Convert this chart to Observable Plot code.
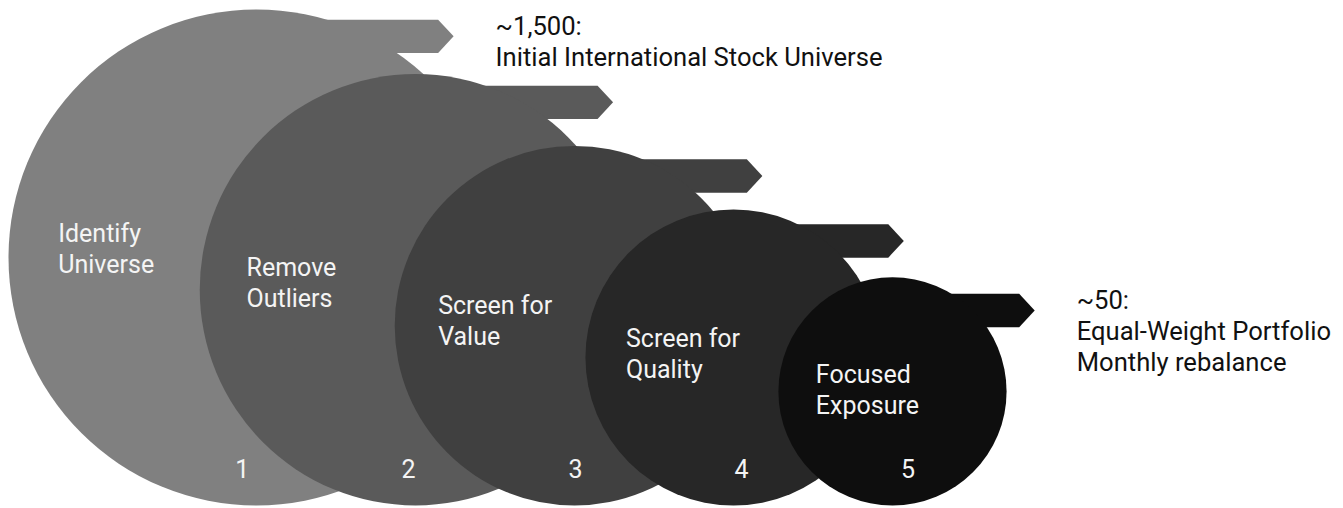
<!DOCTYPE html>
<html>
<head>
<meta charset="utf-8">
<script src="https://cdn.jsdelivr.net/npm/d3@7"></script>
<script src="https://cdn.jsdelivr.net/npm/@observablehq/plot@0.6"></script>
<style>
  html, body { margin: 0; padding: 0; background: #fff; }
  #chart svg { display: block; }
</style>
</head>
<body>
<div id="chart"></div>
<script>
// ---- data ----
const stages = [1, 2, 3, 4, 5];
const stepNames = ["Identify\nUniverse", "Remove\nOutliers", "Screen for\nValue", "Screen for\nQuality", "Focused\nExposure"];
const stageSizes = [100, 87, 72.5, 59.7, 46];            // relative size of each funnel stage
const noteStages = [1, 5];
const noteTexts = ["~1,500:\nInitial International Stock Universe", "~50:\nEqual-Weight Portfolio\nMonthly rebalance"];

// ---- styles ----
const shades = ["#808080", "#5a5a5a", "#404040", "#272727", "#0e0e0e"];
const FONT = "Roboto, 'Noto Sans', sans-serif";
const labelSize = 25, numSize = 25, noteSize = 25.6;
const labelLH = 31, noteLH = 31;

// ---- scales ----
const X = {domain: [1, 5], range: [256, 892]};
const Y = {domain: [0, 100], range: [505, 257]};
const R = {type: "linear", domain: [0, 100], range: [0, 248]};
const sx = Plot.scale({x: X}), sy = Plot.scale({y: Y}), sr = Plot.scale({r: R});

const table = stages.map((s, i) => {
  const cx = sx.apply(s), cy = sy.apply(stageSizes[i]), r = sr.apply(stageSizes[i]);
  const u = r - 181.2;
  const fc = cy - 1.047 * r + 38.5;                                // flag centre line
  const tip = cx + 179 + 0.4088 * u - 0.004168 * (u * u - 2258.6);  // flag tip
  return {stage: s, name: stepNames[i], size: stageSizes[i], cx, cy, r, fc, tip};
});

const flagPts = table.flatMap(d => {
  const h = 16.7, c = d.tip - 15.5;
  return [[d.cx, d.fc - h], [c, d.fc - h], [d.tip, d.fc], [c, d.fc + h], [d.cx, d.fc + h], [d.cx, d.fc - h]]
    .map(([px, py]) => ({stage: d.stage, x: sx.invert(px), y: sy.invert(py)}));
});

// Plot places the first baseline 0.71 line-heights below y for lineAnchor "top"
const labels = table.map(d => ({
  text: d.name,
  x: sx.invert(d.cx - 0.908 * d.r + 26.9),
  y: sy.invert(d.cy - 3 - 0.05 * d.r - 0.71 * labelLH)
}));
const numbers = table.map(d => ({
  text: String(d.stage),
  x: sx.invert(d.cx + 40.8 - 0.2216 * d.r),
  y: 0
}));
const notes = noteStages.map((s, i) => {
  const d = table.find(t => t.stage === s);
  return {text: noteTexts[i], x: sx.invert(d.tip + 42), y: sy.invert(d.fc - 1 - 0.71 * noteLH)};
});

const chart = Plot.plot({
  width: 1343,
  height: 508,
  margin: 0,
  x: {...X, axis: null},
  y: {...Y, axis: null},
  r: R,
  color: {type: "ordinal", domain: stages, range: shades},
  style: {fontFamily: FONT, background: "#fff"},
  marks: [
    Plot.line(flagPts, {x: "x", y: "y", z: "stage", fill: "stage", stroke: "none"}),
    Plot.dot(table, {x: "stage", y: "size", r: "size", fill: "stage", stroke: "none"}),
    Plot.text(labels, {x: "x", y: "y", text: "text", textAnchor: "start", lineAnchor: "top",
      lineHeight: labelLH / labelSize, fontSize: labelSize, fill: "#f4f4f4", fontFamily: FONT}),
    Plot.text(numbers, {x: "x", y: "y", text: "text", dy: -(28 + 0.32 * numSize), lineAnchor: "middle",
      fontSize: numSize, fill: "#f4f4f4", fontFamily: FONT}),
    Plot.text(notes, {x: "x", y: "y", text: "text", textAnchor: "start", lineAnchor: "top",
      lineHeight: noteLH / noteSize, fontSize: noteSize, fill: "#111", fontFamily: FONT})
  ]
});
document.getElementById("chart").appendChild(chart);
</script>
</body>
</html>
